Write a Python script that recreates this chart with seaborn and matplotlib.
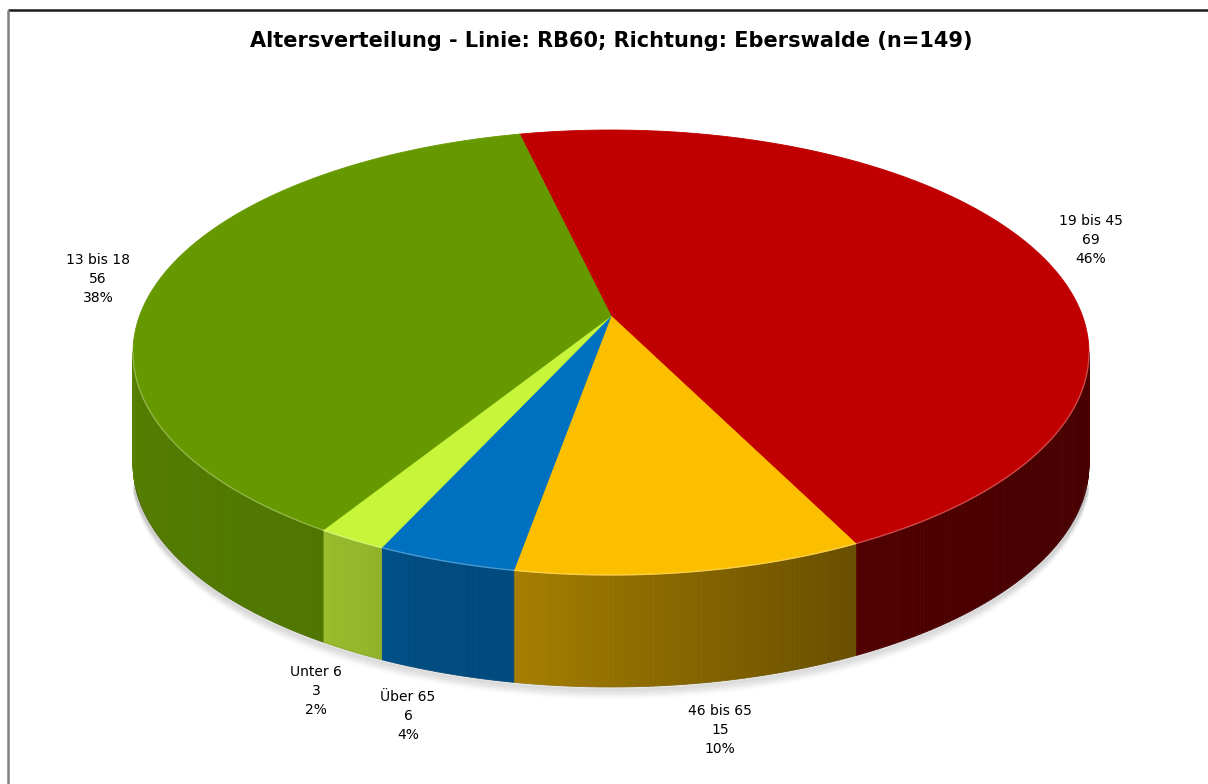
import numpy as np
import matplotlib
matplotlib.use("Agg")
import matplotlib.pyplot as plt
import seaborn as sns
from matplotlib.patches import Polygon

# data (clockwise from the top)
categories = ["19 bis 45", "46 bis 65", "Über 65", "Unter 6", "13 bis 18"]
counts = [69, 15, 6, 3, 56]
colors_hex = ["#C00000", "#FCBF00", "#0070C0", "#C6F53A", "#669900"]
title = "Altersverteilung - Linie: RB60; Richtung: Eberswalde (n=149)"

# label placement (pixel coords)
label_xy = [(1091, 240), (720, 730), (408, 716), (316, 691), (98, 279)]

sns.set_theme(style="white")
plt.rcParams["font.family"] = ["DejaVu Sans"]
palette = sns.color_palette(colors_hex)

# pie geometry in pixels (simple perspective)
CX, CY = 611, 316
S, T, P = 471.5, 216.5, 0.164
DEPTH = 112
START = -13.0


def proj(theta, z=0.0):
    th = np.radians(theta)
    X, Y = np.sin(th), np.cos(th)
    w = 1 + P * Y
    return CX + S * X / w, CY - T * Y / w + z


def shade(theta):
    return np.interp(theta, [99, 130, 155, 175, 190, 200, 206, 214, 240, 261],
                     [0.38, 0.38, 0.42, 0.55, 0.66, 0.67, 0.74, 0.78, 0.8, 0.84])


fig = plt.figure(figsize=(12.08, 7.84), dpi=100)
ax = fig.add_axes([0, 0, 1, 1])
ax.set_xlim(0, 1208)
ax.set_ylim(784, 0)
ax.axis("off")

total = sum(counts)
edges = START + 360 * np.cumsum([0] + counts) / total
front_lo = np.degrees(np.arccos(-P))
front_hi = 360 - front_lo

# soft shadow under the pie
sh = np.linspace(front_lo + 5, front_hi - 5, 300)
for d in range(1, 12):
    x, y = proj(sh, DEPTH + d)
    ax.plot(x, y, color="0.35", alpha=0.07 * (1 - d / 12), lw=3,
            solid_capstyle="round")

# side walls
for i, (a0, a1) in enumerate(zip(edges[:-1], edges[1:])):
    lo, hi = max(a0, front_lo), min(a1, front_hi)
    if lo >= hi:
        continue
    steps = np.append(np.arange(lo, hi, 0.5), hi)
    base = np.array(palette[i])
    for s0, s1 in zip(steps[:-1], steps[1:]):
        xa, ya = proj(np.array([s0, s1]))
        xb, yb = proj(np.array([s1, s0]), DEPTH)
        c = base * shade((s0 + s1) / 2)
        ax.add_patch(Polygon(np.column_stack([np.r_[xa, xb], np.r_[ya, yb]]),
                             closed=True, facecolor=c, edgecolor=c, lw=0.6))

# top faces
for i, (a0, a1) in enumerate(zip(edges[:-1], edges[1:])):
    th = np.linspace(a0, a1, 300)
    x, y = proj(th)
    pts = np.column_stack([np.r_[CX, x], np.r_[CY, y]])
    ax.add_patch(Polygon(pts, closed=True, facecolor=palette[i],
                         edgecolor=palette[i], lw=0.6))
    lo, hi = max(a0, front_lo), min(a1, front_hi)
    if lo < hi:
        xe, ye = proj(np.linspace(lo, hi, 100))
        light = np.array(palette[i]) * 0.6 + 0.4
        ax.plot(xe, ye, color=light, lw=1.0, alpha=0.7)

# labels
for (lx, ly), cat, n in zip(label_xy, categories, counts):
    pct = round(100 * n / total)
    ax.text(lx, ly, f"{cat}\n{n}\n{pct}%", ha="center", va="center",
            fontsize=10, linespacing=1.45, color="black")

ax.text(611, 41, title, ha="center", va="center", fontsize=15,
        fontweight="bold", color="black")

# frame of the chart area
ax.plot([8, 1208], [10, 10], color="#1a1a1a", lw=1.8, solid_capstyle="butt")
ax.plot([8, 8], [10, 784], color="#808080", lw=1.8, solid_capstyle="butt")

fig.savefig("out.png", dpi=100)
